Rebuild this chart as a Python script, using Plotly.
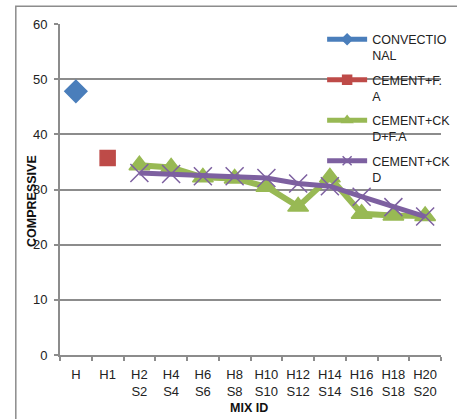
import plotly.graph_objects as go

categories = ["H", "H1", "H2 S2", "H4 S4", "H6 S6", "H8 S8", "H10 S10",
              "H12 S12", "H14 S14", "H16 S16", "H18 S18", "H20 S20"]
tick_labels = ["H", "H1", "H2<br>S2", "H4<br>S4", "H6<br>S6", "H8<br>S8", "H10<br>S10",
               "H12<br>S12", "H14<br>S14", "H16<br>S16", "H18<br>S18", "H20<br>S20"]
convectional = [47.8, None, None, None, None, None, None, None, None, None, None, None]
cement_fa = [None, 35.7, None, None, None, None, None, None, None, None, None, None]
cement_ckd_fa = [None, None, 34.4, 34.0, 32.2, 32.0, 30.5, 26.9, 32.2, 25.6, 25.3, 25.2]
cement_ckd = [None, None, 33.0, 32.8, 32.4, 32.4, 32.1, 31.1, 30.6, 28.7, 26.8, 25.1]

series_names = ["CONVECTIO<br>NAL", "CEMENT+F.<br>A", "CEMENT+CK<br>D+F.A", "CEMENT+CK<br>D"]
colors = ["#4A7EBB", "#BE4B48", "#98B954", "#7D60A0"]
symbols = ["diamond", "square", "triangle-up", "x-thin-open"]
plot_sizes = [17, 15, 18, 18]
legend_sizes = [8, 9, 9, 9]
line_widths = [4, 4, 6, 5]
series_values = [convectional, cement_fa, cement_ckd_fa, cement_ckd]

FONT = "Liberation Sans, Arial, sans-serif"
GRID = "#8c8c8c"
TXT = "#222222"

fig = go.Figure()
for name, col, sym, ps, lw, vals in zip(series_names, colors, symbols, plot_sizes, line_widths, series_values):
    fig.add_trace(go.Scatter(x=categories, y=vals, name=name, mode="lines+markers", showlegend=False,
                             line=dict(color=col, width=lw),
                             marker=dict(symbol=sym, size=ps, color=col, line=dict(color=col, width=1.5))))
for i, (name, col, sym, ls) in enumerate(zip(series_names, colors, symbols, legend_sizes)):
    fig.add_trace(go.Scatter(x=[None], y=[None], name=name, mode="lines+markers", showlegend=True,
                             legendgroup="g%d" % i,
                             line=dict(color=col, width=5),
                             marker=dict(symbol=sym, size=ls, color=col, line=dict(color=col, width=1.5))))

fig.update_layout(
    width=457, height=419,
    margin=dict(l=60, r=1, t=24, b=64),
    paper_bgcolor="white", plot_bgcolor="white",
    font=dict(family=FONT, size=13, color=TXT),
    showlegend=True,
    legend=dict(x=0.688, y=0.998, xanchor="left", yanchor="top",
                bgcolor="rgba(0,0,0,0)", valign="top",
                traceorder="grouped", tracegroupgap=5,
                font=dict(family=FONT, size=12.5, color=TXT),
                itemwidth=40),
    xaxis=dict(type="category", categoryorder="array", categoryarray=categories,
               tickvals=categories, ticktext=tick_labels, tickangle=0,
               range=[-0.5, 11.5], showgrid=False, showline=True, linecolor=GRID, linewidth=2,
               ticks="outside", tickson="boundaries", ticklen=4, tickcolor=GRID, tickwidth=1.5,
               tickfont=dict(family=FONT, size=13, color=TXT), zeroline=False,
               ticklabelstandoff=6),
    yaxis=dict(range=[0, 60], tickvals=[0, 10, 20, 30, 40, 50, 60], showgrid=True,
               gridcolor=GRID, gridwidth=1.5, showline=True, linecolor=GRID, linewidth=2,
               ticks="outside", ticklen=4, tickcolor=GRID, tickwidth=1.5,
               tickfont=dict(family=FONT, size=13, color=TXT), zeroline=False,
               ticklabelstandoff=4),
    annotations=[
        dict(text="<b>COMPRESSIVE</b>", xref="paper", yref="paper", x=-0.073, y=0.466,
             xanchor="center", yanchor="middle",
             textangle=-90, showarrow=False, font=dict(family=FONT, size=12.5, color="#111111")),
        dict(text="<b>MIX ID</b>", xref="paper", yref="paper", x=0.497, y=-0.16,
             xanchor="center", yanchor="middle",
             showarrow=False, font=dict(family=FONT, size=12.5, color="#111111")),
    ],
    shapes=[
        dict(type="rect", xref="paper", yref="paper", x0=-0.116, y0=-0.3, x1=1.2, y1=1.054,
             line=dict(color="#8c8c8c", width=1.5), fillcolor="rgba(0,0,0,0)", layer="below"),
    ],
)

fig.write_html("out.html")
